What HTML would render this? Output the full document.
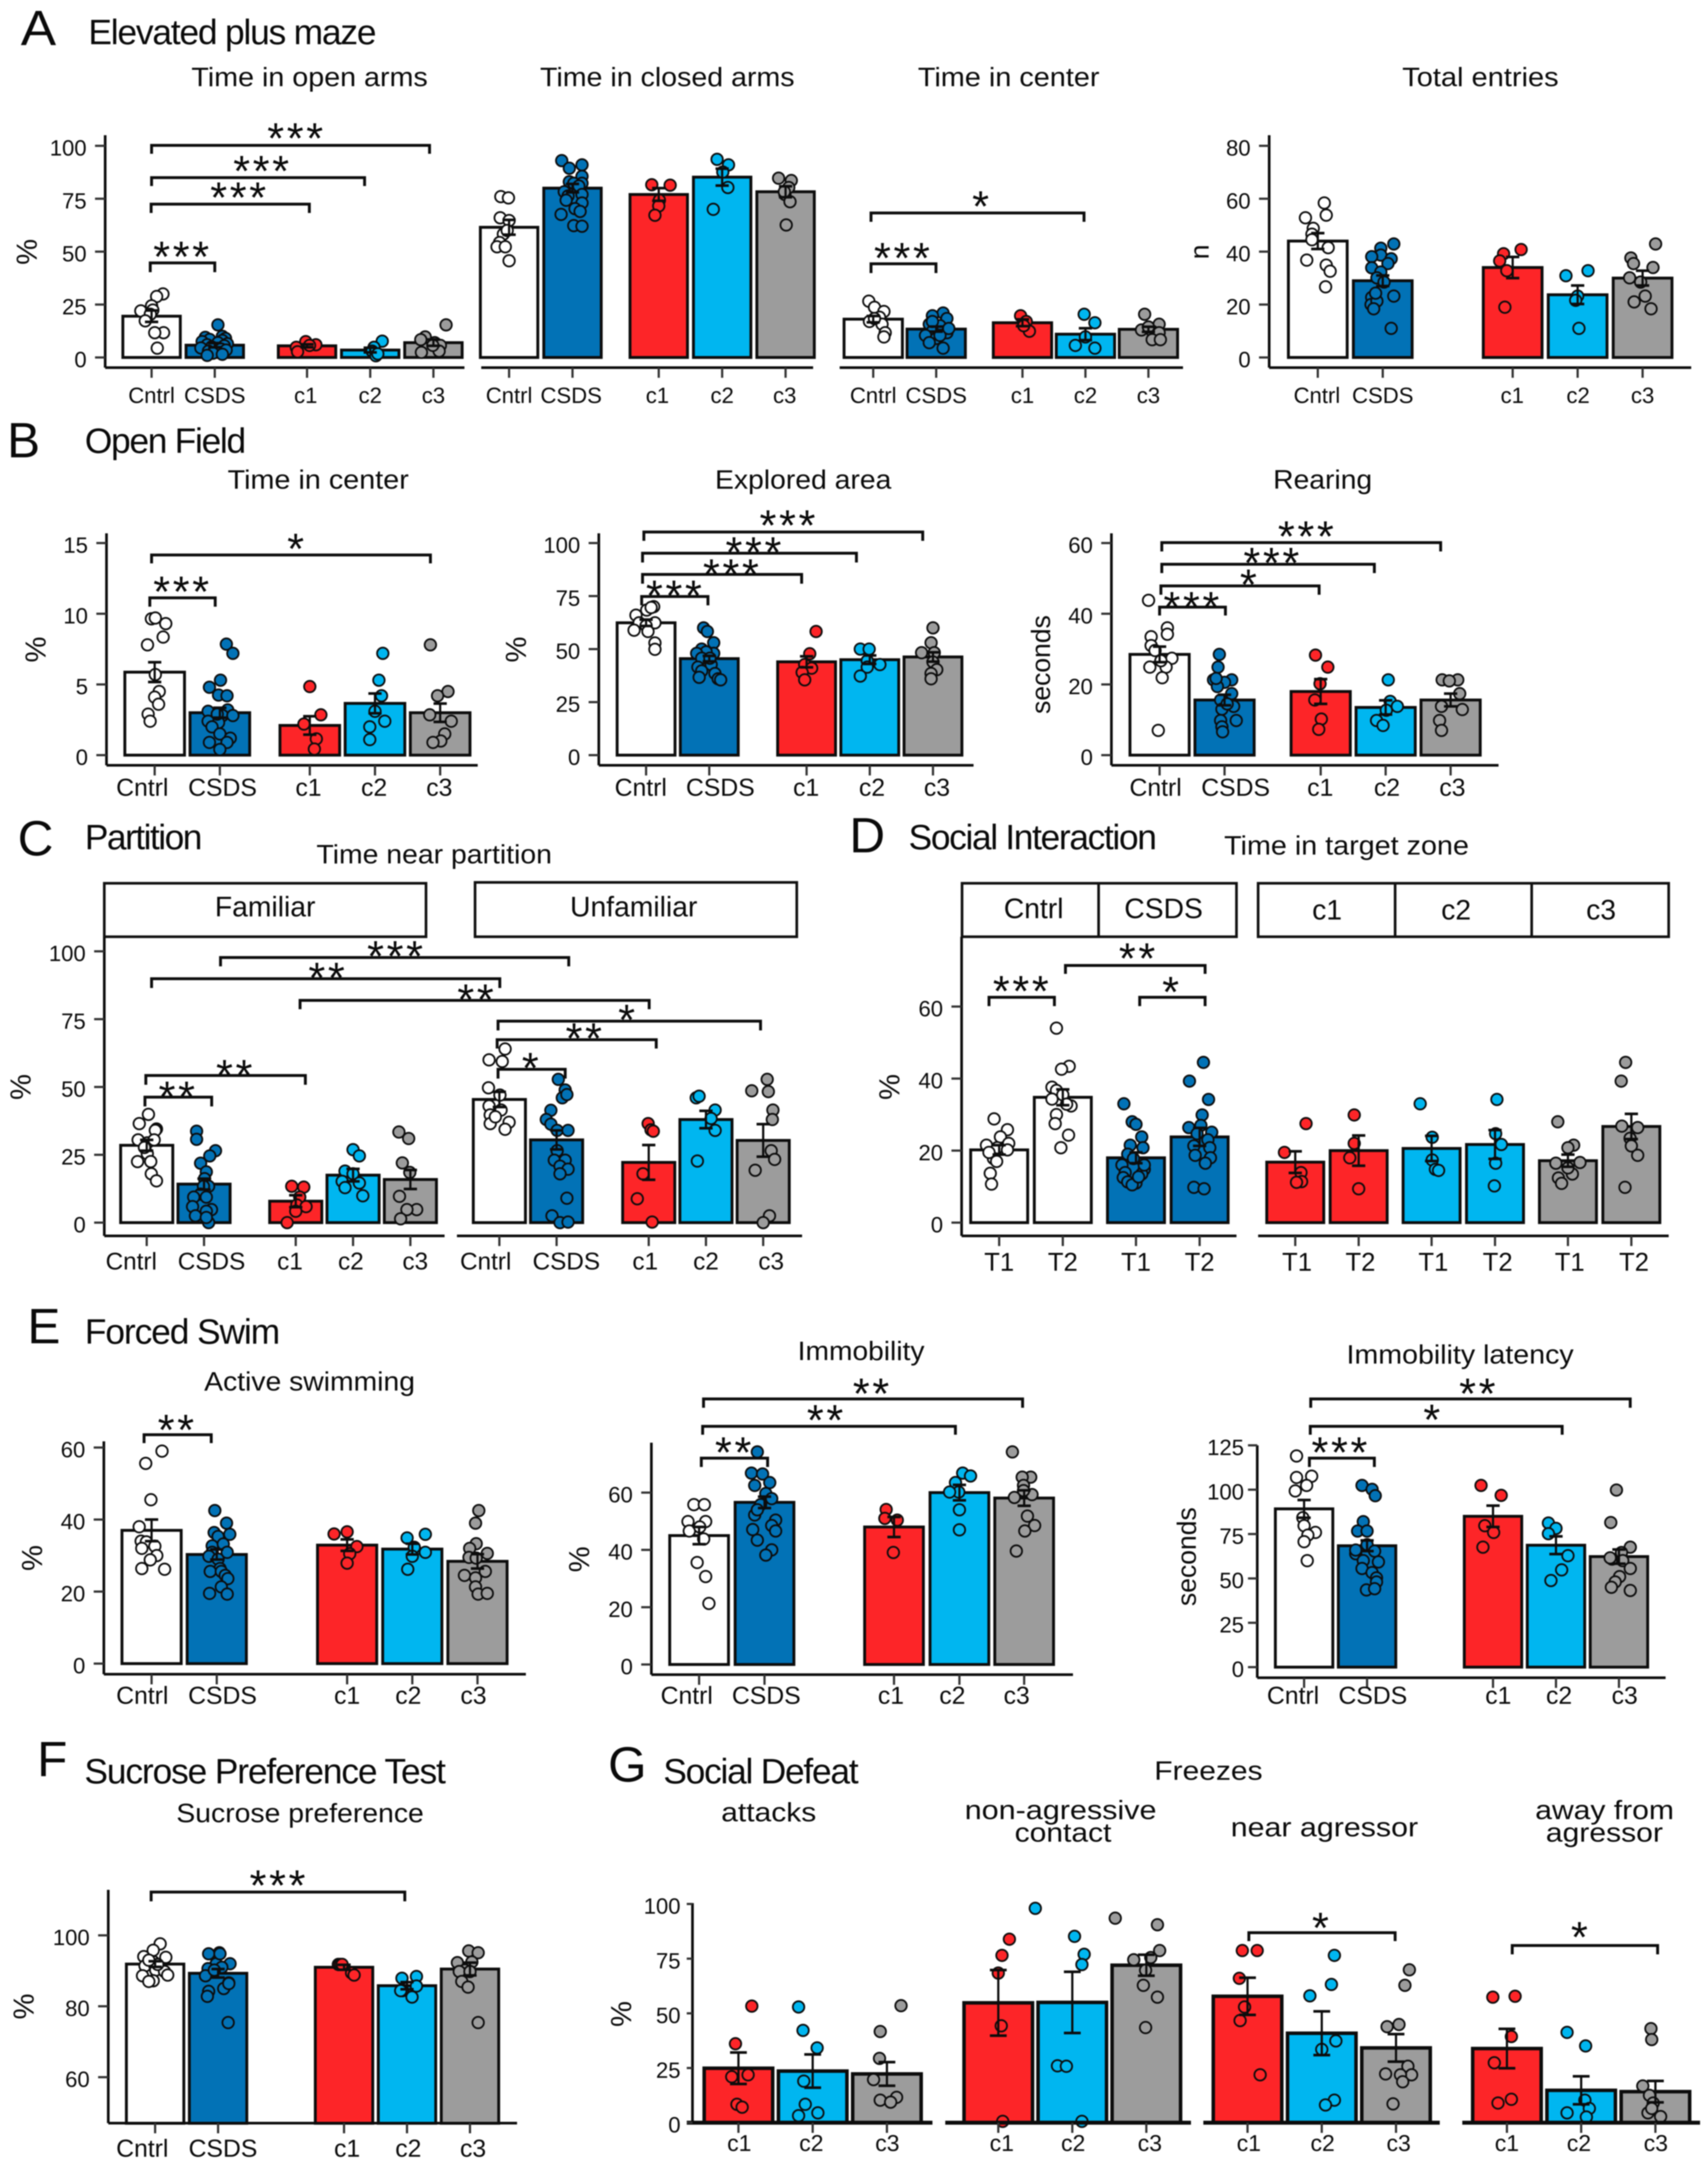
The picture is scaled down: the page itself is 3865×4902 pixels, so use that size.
<!DOCTYPE html>
<html lang="en">
<head>
<meta charset="utf-8">
<title>Behavioural test bar charts</title>
<style>
html,body{margin:0;padding:0;background:#fff;}
svg{display:block;position:absolute;left:0;top:0;filter:blur(1.2px);}
text{font-family:"Liberation Sans",sans-serif;fill:#0a0a0a;}
.head{font-size:80px;}
.letter{font-size:112px;}
.title{font-size:60px;}
.ytitle{font-size:66px;text-anchor:middle;}
.strip{font-size:64px;text-anchor:middle;}
.box{fill:#fff;stroke:#111;stroke-width:6;}
</style>
</head>
<body>
<svg id="figure" xmlns="http://www.w3.org/2000/svg" width="3865" height="4902" viewBox="0 0 3865 4902">
<rect x="0" y="0" width="3865" height="4902" fill="#fff"/>

<text class="letter" x="47" y="102" textLength="80" lengthAdjust="spacingAndGlyphs">A</text>
<text class="head" x="200" y="100" textLength="652" lengthAdjust="spacing">Elevated plus maze</text>
<text class="title" x="433" y="195" textLength="535" lengthAdjust="spacingAndGlyphs">Time in open arms</text>
<text class="title" x="1222" y="195" textLength="576" lengthAdjust="spacingAndGlyphs">Time in closed arms</text>
<text class="title" x="2077" y="195" textLength="411" lengthAdjust="spacingAndGlyphs">Time in center</text>
<text class="title" x="3173" y="195" textLength="354" lengthAdjust="spacingAndGlyphs">Total entries</text>
<text class="ytitle" transform="translate(83,570) rotate(-90)">%</text>
<text class="ytitle" style="font-size:60px" transform="translate(2735,570) rotate(-90)">n</text>

<text class="letter" x="16" y="1035">B</text>
<text class="head" x="192" y="1025" textLength="365" lengthAdjust="spacing">Open Field</text>
<text class="title" x="515" y="1106" textLength="410" lengthAdjust="spacingAndGlyphs">Time in center</text>
<text class="title" x="1618" y="1106" textLength="399" lengthAdjust="spacingAndGlyphs">Explored area</text>
<text class="title" x="2881" y="1106" textLength="224" lengthAdjust="spacingAndGlyphs">Rearing</text>
<text class="ytitle" transform="translate(103,1470) rotate(-90)">%</text>
<text class="ytitle" transform="translate(1190,1470) rotate(-90)">%</text>
<text class="ytitle" style="font-size:60px" transform="translate(2376,1504) rotate(-90)">seconds</text>

<text class="letter" x="40" y="1936">C</text>
<text class="head" x="192" y="1922" textLength="266" lengthAdjust="spacing">Partition</text>
<text class="title" x="716" y="1954" textLength="533" lengthAdjust="spacingAndGlyphs">Time near partition</text>
<rect class="box" x="236" y="1999" width="728" height="121"/>
<rect class="box" x="1075" y="1997" width="728" height="123"/>
<text class="strip" x="600" y="2074">Familiar</text>
<text class="strip" x="1434" y="2074">Unfamiliar</text>
<text class="ytitle" transform="translate(69,2460) rotate(-90)">%</text>

<text class="letter" x="1922" y="1929">D</text>
<text class="head" x="2056" y="1922" textLength="562" lengthAdjust="spacing">Social Interaction</text>
<text class="title" x="2770" y="1934" textLength="554" lengthAdjust="spacingAndGlyphs">Time in target zone</text>
<rect class="box" x="2177" y="1999" width="309" height="121"/>
<rect class="box" x="2486" y="1999" width="312" height="121"/>
<rect class="box" x="2847" y="1999" width="310" height="121"/>
<rect class="box" x="3157" y="1999" width="309" height="121"/>
<rect class="box" x="3466" y="1999" width="310" height="121"/>
<text class="strip" x="2339" y="2078">Cntrl</text>
<text class="strip" x="2633" y="2078">CSDS</text>
<text class="strip" x="3003" y="2081">c1</text>
<text class="strip" x="3295" y="2081">c2</text>
<text class="strip" x="3623" y="2081">c3</text>
<text class="ytitle" transform="translate(2035,2460) rotate(-90)">%</text>

<text class="letter" x="62" y="3040">E</text>
<text class="head" x="192" y="3041" textLength="442" lengthAdjust="spacing">Forced Swim</text>
<text class="title" x="462" y="3147" textLength="477" lengthAdjust="spacingAndGlyphs">Active swimming</text>
<text class="title" x="1805" y="3078" textLength="287" lengthAdjust="spacingAndGlyphs">Immobility</text>
<text class="title" x="3047" y="3086" textLength="514" lengthAdjust="spacingAndGlyphs">Immobility latency</text>
<text class="ytitle" transform="translate(95,3526) rotate(-90)">%</text>
<text class="ytitle" transform="translate(1333,3529) rotate(-90)">%</text>
<text class="ytitle" style="font-size:60px" transform="translate(2706,3523) rotate(-90)">seconds</text>

<text class="letter" x="84" y="4020">F</text>
<text class="head" x="191" y="4036" textLength="818" lengthAdjust="spacing">Sucrose Preference Test</text>
<text class="title" x="399" y="4124" textLength="560" lengthAdjust="spacingAndGlyphs">Sucrose preference</text>
<text class="ytitle" transform="translate(76,4541) rotate(-90)">%</text>

<text class="letter" x="1376" y="4032">G</text>
<text class="head" x="1501" y="4036" textLength="442" lengthAdjust="spacing">Social Defeat</text>
<text class="title" x="2612" y="4028" textLength="245" lengthAdjust="spacingAndGlyphs">Freezes</text>
<text class="title" x="1632" y="4122" textLength="215" lengthAdjust="spacingAndGlyphs">attacks</text>
<text class="title" x="2183" y="4117" textLength="434" lengthAdjust="spacingAndGlyphs">non-agressive</text>
<text class="title" x="2296" y="4168" textLength="219" lengthAdjust="spacingAndGlyphs">contact</text>
<text class="title" x="2785" y="4156" textLength="424" lengthAdjust="spacingAndGlyphs">near agressor</text>
<text class="title" x="3474" y="4117" textLength="314" lengthAdjust="spacingAndGlyphs">away from</text>
<text class="title" x="3498" y="4168" textLength="265" lengthAdjust="spacingAndGlyphs">agressor</text>
<text class="ytitle" transform="translate(1428,4558) rotate(-90)">%</text>
</svg>

<script>
// ---------- categories ----------
const groupNames = ['Cntrl', 'CSDS', 'c1', 'c2', 'c3'];
const cohortNames = ['c1', 'c2', 'c3'];
const pairNamesD1 = ['T1', 'T2', 'T1', 'T2'];
const pairNamesD2 = ['T1', 'T2', 'T1', 'T2', 'T1', 'T2'];

// ---------- A: time in open arms ----------
const a1Ticks = [0, 25, 50, 75, 100];
const a1Means = [19.5, 5.8, 5.5, 3.5, 7];
const a1Sem = [2.7, 1, 0.7, 1.1, 1.5];
const a1Values = [
 [30, 28.8, 24.4, 22, 22.4, 20.4, 17.3, 11.7, 11.7, 4.4],
 [15.4, 10, 9.5, 9, 8.5, 8, 7.5, 7, 6.5, 6, 5.5, 5, 4.5, 4, 3.5, 3, 2, 1.5, 1],
 [7.5, 6, 4.8, 2.7, 5.7],
 [7.7, 4.8, 3, 0.8, 1.7],
 [15.4, 9.7, 8.4, 7, 5.7, 3, 2.4, 5.7]];
const a1Jitter = [
 [.18, .08, 0, -.17, .02, -.02, -.1, .19, .05, .09],
 [.05, .12, -.15, .17, -.08, .12, -.2, .05, .2, -.12, .15, -.05, -.22, .1, .18, -.1, -.03, .12, -.12],
 [-.02, .14, -.17, -.15, .04],
 [.19, .06, .03, .09, .12],
 [.2, -.13, -.2, .02, .11, .09, -.19, -.01]];

// ---------- A: time in closed arms ----------
const a2Ticks = [0, 25, 50, 75, 100];
const a2Means = [61.5, 80, 77, 85.2, 78.3];
const a2Sem = [3.5, 2, 3, 4, 2.6];
const a2Values = [
 [76, 75.4, 66, 64.7, 58.3, 54.3, 52.3, 52.3, 45.7, 60],
 [93, 91, 89.4, 85.6, 83, 82.3, 82.3, 81, 78.3, 77, 76.3, 74.3, 73, 70.3, 69, 67.6, 62.3, 62],
 [81.6, 81.4, 74.3, 71.6, 67.2],
 [93.6, 91, 80.3, 87.6, 70],
 [84.7, 83.6, 80.3, 77, 73.6, 62.6, 78.3]];
const a2Jitter = [
 [-.13, -.01, -.14, 0, -.09, -.15, -.19, -.06, 0, -.03],
 [-.17, .15, -.05, .15, -.05, .02, .15, .1, -.13, .15, -.07, -.1, .15, .04, .12, -.18, .02, .15],
 [-.11, .18, .01, 0, -.06],
 [-.08, .1, .09, .01, -.14],
 [-.11, .09, .05, -.01, .07, .01, -.02]];

// ---------- A: time in center ----------
const a3Ticks = [0, 25, 50, 75, 100];
const a3Means = [18.1, 13.4, 16.4, 11, 13.3];
const a3Sem = [1.5, 1.2, 1.6, 2.8, 1.2];
const a3Values = [
 [26.6, 23.7, 21.7, 19, 17, 15.7, 11.7, 9.7, 18.4],
 [21, 19.7, 18.4, 15.7, 15, 12.4, 11.7, 10.4, 9, 7, 4.4, 10.4, 17, 13.7],
 [19.7, 17, 12.4, 15],
 [20.4, 16.4, 9.7, 5.7, 4.4],
 [20.4, 15.7, 13, 12.4, 11.7, 8.4, 8.4, 14.4]];
const a3Jitter = [
 [-.07, .02, .17, .1, -.06, .14, .19, .17, .02],
 [.11, -.06, .17, -.11, .06, -.06, .17, -.17, 0, -.11, .11, .06, -.06, .2],
 [-.03, .06, .11, .02],
 [-.02, .15, 0, -.16, .15],
 [-.06, .17, -.11, .06, .17, .06, .19, 0]];

// ---------- A: total entries ----------
const a4Ticks = [0, 20, 40, 60, 80];
const a4Means = [44, 29, 34, 23.7, 30];
const a4Sem = [3, 2, 4, 3.5, 2.8];
const a4Values = [
 [58.4, 53.8, 52.8, 48.8, 46.6, 44.5, 41.5, 36.8, 34.9, 32.6, 26.7],
 [42.9, 41.3, 38.7, 38.1, 37.3, 35.5, 33.9, 32.3, 30.1, 22.7, 23.2, 20, 21.3, 18.4, 11, 28.5, 24.3],
 [40.8, 39.2, 36.5, 32.8, 19],
 [32.8, 30.9, 23.2, 21.6, 11],
 [42.9, 37.6, 35.5, 34, 30.1, 28.5, 23.2, 21, 18.4]];
const a4Jitter = [
 [.1, .13, -.19, -.07, -.09, -.09, .16, -.17, .13, .19, .12],
 [.17, -.03, -.03, -.17, .13, .08, -.17, -.03, -.09, -.17, .17, -.18, -.09, -.14, .13, .02, -.11],
 [.13, -.14, -.2, -.09, -.12],
 [.16, -.18, 0, -.03, .02],
 [.2, -.18, -.14, .16, -.2, -.03, .04, -.13, .13]];

// ---------- B: time in center ----------
const b1Ticks = [0, 5, 10, 15];
const b1Means = [5.87, 3, 2.1, 3.66, 3];
const b1Sem = [0.7, 0.35, 0.65, 0.7, 0.65];
const b1Values = [
 [9.64, 9.7, 9.3, 8.35, 7.8, 5.7, 4.5, 4.1, 3.6, 2.9, 2.4],
 [7.85, 7.2, 5.3, 4.8, 4.25, 4.2, 3.1, 3.2, 2.8, 2.4, 2.3, 2, 1.5, 1.2, 0.9, 0.9, 0.4, 2.9, 2.8],
 [4.85, 2.85, 2.2, 1.15, 0.43],
 [7.2, 5.3, 4.2, 3.1, 2.4, 2, 1.1],
 [7.8, 4.5, 4.2, 2.85, 2.4, 1.5, 1, 0.9]];
const b1Jitter = [
 [-.05, .01, .17, .13, -.11, .01, .07, 0, .06, -.1, -.07],
 [.1, .2, .01, -.16, -.02, .11, -.18, .12, .04, -.18, -.02, -.12, 0, .16, .11, -.16, 0, -.04, .2],
 [0, .17, -.09, .1, .07],
 [.12, .06, .1, 0, .15, -.08, -.08],
 [-.15, .12, -.04, -.16, .17, .07, .01, -.11]];

// ---------- B: explored area ----------
const b2Ticks = [0, 25, 50, 75, 100];
const b2Means = [62.4, 45.5, 44, 45, 46.3];
const b2Sem = [1.5, 1.3, 2.6, 2, 2.2];
const b2Values = [
 [70, 68.4, 66, 62.4, 62.4, 58.9, 61, 58.3, 52.9, 49.9, 69.6],
 [60, 58.3, 53, 50, 48, 48.7, 48, 45.7, 42.7, 41.5, 39.7, 38.5, 36.7, 36, 35.5, 45.7],
 [58.3, 47.8, 42.7, 41, 39, 35.5],
 [50, 50, 44.5, 42.7, 41.5, 37.3],
 [60, 53, 48.3, 48.3, 43.9, 40.3, 38.5, 36]];
const b2Jitter = [
 [.12, .01, -.16, -.11, .14, -.19, 0, .03, .14, .14, .08],
 [-.09, -.03, .07, -.12, .07, -.05, -.2, -.12, .03, -.18, -.12, .09, -.16, .14, .18, .01],
 [.15, .05, -.03, .08, -.07, -.03],
 [-.15, -.01, -.04, .16, -.04, -.15],
 [0, -.03, -.18, .02, 0, .06, -.03, -.03]];

// ---------- B: rearing ----------
const b3Ticks = [0, 20, 40, 60];
const b3Means = [28.5, 15.6, 18, 13.5, 15.6];
const b3Sem = [2.2, 1.5, 3.5, 2, 1.8];
const b3Values = [
 [43.8, 36, 34.2, 33.5, 31, 29.6, 27.4, 24.9, 24.9, 26.7, 21.9, 7],
 [28.5, 24.9, 21.3, 21.3, 20.6, 19.4, 17.4, 15.6, 13.8, 13, 9.8, 9.8, 8, 6.6, 14.5, 21.7],
 [28.3, 24.9, 20.2, 15.6, 10.2, 7.3],
 [21.3, 15.2, 13.8, 12.7, 9.8, 8.4],
 [21.3, 21.3, 21, 17.4, 13.8, 12.9, 9.8, 7]];
const b3Jitter = [
 [-.17, .12, .12, -.13, -.13, -.07, .19, -.15, .1, .02, .04, -.02],
 [-.08, -.1, -.17, .11, 0, -.11, .11, -.06, .14, -.04, -.06, .18, -.04, -.03, .04, -.13],
 [-.08, .11, -.01, -.09, .01, -.03],
 [.04, .07, .18, .01, -.14, -.04],
 [-.13, .11, -.02, .14, -.14, .18, -.17, -.14]];

// ---------- C: familiar ----------
const c1Ticks = [0, 25, 50, 75, 100];
const c1Means = [28.5, 14.2, 7.9, 17.5, 15.9];
const c1Sem = [2, 2, 2.2, 2.3, 3.5];
const c1Values = [
 [39.9, 36.5, 34.5, 34, 30.5, 29.4, 30.5, 25.4, 22.5, 22.5, 18, 15.4, 27.7],
 [33.7, 30.7, 26.5, 24.6, 21.9, 18.7, 16.2, 13.4, 13.4, 10.5, 9.4, 9.4, 5.9, 4.8, 4.2, 2.5, 0, 1.9],
 [13.4, 13.1, 9.4, 6.5, 5.9, 4.2, 0],
 [26.9, 24.6, 19, 18, 15.2, 12.9, 14.6, 9.9],
 [33.4, 31, 22, 18.5, 9.7, 4.8, 4.8, 1.4]];
const c1Jitter = [
 [.03, -.13, .17, .15, -.15, .01, .13, .01, -.16, .07, .08, .17, -.04],
 [-.13, -.13, .2, .1, -.06, .04, .01, .08, -.01, -.06, -.18, .04, -.2, .13, .04, -.15, .08, .04],
 [-.07, .14, .07, .02, .18, 0, -.15],
 [0, .11, -.14, 0, -.19, -.14, .11, .17],
 [-.2, -.03, -.14, -.01, -.19, .11, -.06, -.17]];

// ---------- C: unfamiliar ----------
const c2Means = [45.4, 30.5, 22.2, 38, 30.3];
const c2Sem = [2.8, 3.5, 6.4, 3.2, 6];
const c2Values = [
 [64, 60, 59.4, 49.7, 47, 43, 41.5, 39.7, 37, 36.5, 34.4, 39],
 [52.8, 48.9, 46, 41.4, 38, 36.3, 34, 34, 26.5, 23, 23, 20.8, 19.7, 18, 9, 2.5, 0, 0.2, 47.2],
 [36.5, 34.2, 33.7, 18, 8.8, 0.2],
 [46, 41.5, 38.4, 34, 22.7, 46.6],
 [52.8, 48.6, 48.3, 41.5, 38, 26.5, 23.3, 19.3, 2.5, 0]];
const c2Jitter = [
 [.1, -.18, .05, -.19, .01, -.18, .03, -.16, .17, -.16, .1, -.07],
 [.03, .15, .1, -.1, -.18, -.1, .01, .2, .01, -.04, .15, .06, .2, .06, .18, -.08, .06, .2, .18],
 [-.01, .04, .08, -.1, -.2, .06],
 [-.17, .16, .09, .16, -.15, -.12],
 [.07, -.2, .09, .17, .16, .14, .2, -.14, .11, 0]];

// ---------- D: Cntrl and CSDS ----------
const d1Ticks = [0, 20, 40, 60];
const d1Means = [20.2, 34.8, 18, 23.8];
const d1Sem = [1.3, 2.2, 1.5, 2.5];
const d1Values = [
 [28.8, 25.8, 23.8, 22, 21.5, 20.8, 20.2, 17.8, 17, 13.7, 10.7, 19.5],
 [54, 43.4, 42.6, 37.6, 36.7, 34.3, 35.5, 32.4, 32.9, 30, 27.5, 24.3, 20.8],
 [33, 28, 27.3, 23.8, 21.5, 20.8, 19, 17.8, 16, 14.8, 13.9, 13.5, 12.5, 11.3, 11, 10.5, 12.7, 16],
 [44.5, 39.3, 34.2, 29.9, 26.4, 27, 25.1, 24.7, 23, 21.3, 20.8, 18.7, 18, 16.5, 9.8, 9.4]];
const d1Jitter = [
 [-.08, .13, .02, .15, -.2, -.03, .13, -.09, -.04, -.14, -.12, -.16],
 [-.1, .1, -.02, -.17, -.1, -.17, 0, .13, .06, -.1, -.12, .09, -.03],
 [-.19, -.06, 0, .09, -.09, .11, -.13, -.04, -.22, .13, -.17, .09, -.2, -.13, 0, -.06, .04, .13],
 [.06, -.16, .14, .04, -.17, .02, .19, -.04, .13, -.09, .16, -.07, .17, .09, -.09, .07]];

// ---------- D: cohorts ----------
const d2Means = [16.8, 20, 20.6, 21.7, 17.2, 26.7];
const d2Sem = [3, 4.2, 3.5, 4, 1.7, 3.5];
const d2Values = [
 [27.5, 19.5, 13.9, 11.4, 11.2],
 [29.9, 22, 18, 9.4],
 [33, 23.7, 17.4, 14.8, 14.5],
 [34.2, 24.7, 21.7, 16.5, 10.2],
 [28, 21.5, 20.8, 16.7, 16.5, 13.5, 12.4, 10.9, 15.2],
 [44.5, 39.3, 26.8, 26.4, 23.4, 21.3, 18.7, 9.8]];
const d2Jitter = [
 [.17, -.17, .09, .1, .02],
 [-.07, -.07, -.14, 0],
 [-.18, .01, .01, .06, .11],
 [.03, .01, .1, .01, -.01],
 [-.16, .09, 0, .19, -.19, .07, -.15, -.1, 0],
 [-.09, -.16, -.15, .1, -.02, 0, .1, -.1]];

// ---------- E: active swimming ----------
const e1Ticks = [0, 20, 40, 60];
const e1Means = [37, 30.3, 32.9, 31.8, 28.4];
const e1Sem = [3, 1.4, 1.6, 1.5, 2];
const e1Values = [
 [59, 55.6, 45.5, 38, 34, 33.8, 32.6, 32, 30, 28.8, 26.4, 26.2],
 [42.5, 39, 36.4, 35.9, 35.3, 32.7, 33.2, 30.9, 30.9, 29.8, 29, 26.4, 25.6, 25.6, 24.5, 23.6, 21.3, 19.5, 19.3],
 [36, 36.6, 32.5, 30.5, 27.9],
 [35.9, 34.9, 32.3, 30.9, 29.8, 26.2],
 [42.5, 39, 33.3, 32, 30.6, 29.5, 29.3, 25.6, 24.5, 23.8, 21.3, 19.3, 19.5]];
const e1Jitter = [
 [.16, -.09, -.01, -.19, -.16, -.08, .05, -.15, .08, -.02, -.15, .2],
 [-.03, .15, -.04, .2, .02, -.07, .1, .16, -.07, -.12, .02, .05, -.1, .07, .13, .17, .07, -.11, .16],
 [-.2, 0, .15, .04, 0],
 [.2, -.08, .03, .2, 0, -.07],
 [.02, -.03, -.02, -.12, .15, -.13, -.02, .12, -.2, -.03, -.03, .01, .15]];

// ---------- E: immobility ----------
const e2Ticks = [0, 20, 40, 60];
const e2Means = [45, 56.6, 48, 60, 58.1];
const e2Sem = [3, 2, 3.5, 2.7, 2.7];
const e2Values = [
 [55.8, 55.8, 49.9, 49.9, 46.6, 43.8, 35.6, 30.7, 21.3, 48],
 [74.2, 66.8, 66.5, 63.5, 62.5, 59.7, 57.9, 52.2, 50.4, 47.1, 48.5, 46.6, 43.4, 40, 38.2, 55.8, 54],
 [54.1, 51, 50.4, 39.1],
 [66.8, 65.8, 63.5, 60.2, 60.2, 54, 47],
 [74.2, 65.4, 65.4, 62.5, 58.3, 59.3, 51.8, 48.5, 46.6, 39.6, 60.7]];
const e2Jitter = [
 [-.08, .08, -.17, .1, -.15, .07, -.03, .1, .15, .01],
 [-.11, -.2, -.03, .08, -.15, .02, .11, -.15, .17, -.18, .11, .17, -.11, .11, .02, -.06, -.11],
 [-.12, -.14, .05, -.01],
 [.05, .17, -.06, -.01, -.15, 0, 0],
 [-.18, .1, -.03, -.01, -.15, .12, .05, .16, .01, -.12, -.01]];

// ---------- E: immobility latency ----------
const e3Ticks = [0, 25, 50, 75, 100, 125];
const e3Means = [89.2, 68.4, 85, 68.7, 62.3];
const e3Sem = [5, 3, 6, 5, 4];
const e3Values = [
 [119, 107.6, 106.9, 102.4, 99.3, 84.2, 79.7, 75.9, 74.4, 70.7, 60],
 [102.4, 100.2, 96.6, 82, 76.7, 76.7, 69, 63.9, 65.4, 60, 59.3, 55.6, 53.3, 50.3, 48, 43.5, 44.2, 66],
 [102.4, 96.8, 79.7, 75.9, 67.6],
 [81.2, 78.2, 75.2, 62.8, 54.8, 48.8],
 [99.8, 81.5, 67.6, 64.6, 60.9, 60, 55.6, 51, 48, 45, 43.2, 61.6]];
const e3Jitter = [
 [-.12, .12, -.12, .04, -.14, -.02, 0, .18, .06, 0, .05],
 [-.08, .08, .13, -.06, -.15, 0, 0, -.18, .12, -.06, .18, -.08, .08, .15, .15, -.01, .12, -.18],
 [-.19, .13, -.13, .01, -.16],
 [-.12, 0, -.12, .19, .09, -.08],
 [-.04, -.13, .18, .04, -.11, .06, .18, .01, -.06, -.12, .18, -.14]];

// ---------- F: sucrose preference ----------
const f1Ticks = [60, 80, 100];
const f1Means = [91.9, 89.3, 91, 85.8, 90.5];
const f1Sem = [0.8, 1.2, 0.7, 1, 1.8];
const f1Values = [
 [97.6, 95.8, 94, 93.8, 92.6, 91.4, 90.2, 89.8, 88.6, 88.8, 87.2, 87, 91.8, 93],
 [95.1, 94.8, 92, 92, 90.6, 91, 88.6, 86.6, 85, 84.2, 82.8, 86.4, 75.4, 90.2, 94.8],
 [91.8, 91.8, 89.4, 88.8, 91.8],
 [88.4, 87.9, 85.7, 84.4, 82.6, 84.4],
 [95.6, 95.1, 92.5, 92.3, 90.2, 89.8, 89.8, 87, 85.4, 75.4]];
const f1Jitter = [
 [.08, -.03, -.18, .17, -.03, -.16, .01, .15, -.2, .2, -.03, -.1, .04, -.1],
 [.02, -.15, -.03, .19, -.16, .06, -.2, .17, .09, -.15, -.17, .17, .16, -.06, .03],
 [-.09, -.06, .12, .16, -.03],
 [.15, -.08, .15, -.07, .08, -.1],
 [-.02, .13, .03, -.2, -.08, -.17, 0, -.13, -.03, .13]];

// ---------- G: attacks ----------
const g1Ticks = [0, 25, 50, 75, 100];
const g1Means = [24.9, 23.6, 22.3];
const g1Sem = [7.2, 7.6, 5.4];
const g1Values = [
 [53.3, 36.1, 21.9, 21, 8.4, 7.1],
 [52.9, 42.2, 34.2, 19, 8.4, 4.5, 3.2],
 [53.5, 41.7, 29.4, 19.7, 11.6, 10.3, 9.4]];
const g1Jitter = [
 [.18, -.04, .13, -.09, -.02, .05],
 [-.19, -.13, .06, -.12, -.1, .07, -.19],
 [.19, -.09, -.1, -.18, .13, -.09, .05]];

// ---------- G: non-agressive contact ----------
const g2Means = [54.8, 55, 72];
const g2Sem = [15, 14, 4.8];
const g2Values = [
 [83.9, 76.5, 68.4, 44.3, 0.6],
 [98, 85.2, 77, 72.3, 26, 25.8, 0.6],
 [93.5, 90.5, 78.7, 74.5, 69.7, 62.8, 57.4, 43.5, 75.5]];
const g2Jitter = [
 [.15, .05, 0, .04, .06],
 [-.5, .03, .16, .13, -.2, -.08, .13],
 [-.42, .15, .18, -.17, -.01, -.04, .15, -.01, .06]];

// ---------- G: near agressor ----------
const g3Means = [57.8, 40.9, 34.2];
const g3Sem = [8.5, 10, 6.3];
const g3Values = [
 [78.7, 78.7, 66, 52.9, 46.7, 21.9],
 [76.5, 63.2, 58, 37.4, 33.5, 10.3, 8.1],
 [69.9, 62.8, 44.9, 43.9, 25.8, 22.3, 21.9, 21.9, 18.7, 8.6]];
const g3Jitter = [
 [-.07, .13, -.11, -.04, -.1, .17],
 [.17, .13, -.16, .19, 0, .17, .05],
 [.18, .12, .04, -.12, .16, -.14, .21, .06, .09, -.04]];

// ---------- G: away from agressor ----------
const g4Means = [33.9, 14.8, 14.2];
const g4Sem = [9, 6.4, 4.9];
const g4Values = [
 [57.4, 57.8, 39.4, 27.4, 10.7, 9],
 [41.3, 35.1, 10.3, 6.5, 4.5, 2.6],
 [43, 38, 16.8, 12.5, 9, 4.5, 2.8, 6.5]];
const g4Jitter = [
 [-.19, .11, .06, -.17, .06, -.12],
 [-.19, .06, .05, .11, -.19, .07],
 [-.06, -.05, -.17, -.08, -.03, -.1, .07, -.05]];

// ---------- styling and layout (not data) ----------
const WHITE = '#ffffff', BLUE = '#0272b6', RED = '#fd2528', CYAN = '#00b6f0', GREY = '#9c9c9c';
const fiveFills = [WHITE, BLUE, RED, CYAN, GREY];
const threeFills = [RED, CYAN, GREY];
const slots5a = [0, 1, 2.46, 3.46, 4.46];
const slots5b = [0, 1, 3, 4, 5];

const panels = [
 {name: 'open-arms', cats: groupNames, ticks: a1Ticks, means: a1Means, sem: a1Sem, values: a1Values, jitter: a1Jitter, fills: fiveFills, labelSize: 50,
  axisX: 238, xStart: 238, xEnd: 1051, top: 306, bottom: 832, y0: 809, v0: 0, y1: 330, v1: 100, x0: 343, step: 143, slots: slots5a, barW: 130, labelDx: [0, 0, -3, 0, 0], labelY: 912,
  brackets: [[340, 486, 595, 616, '***', 410, 565], [342, 700, 462, 482, '***', 539, 431], [343, 825, 402, 421, '***', 591, 371], [343, 972, 329, 348, '***', 668, 297]]},
 {name: 'closed-arms', cats: groupNames, means: a2Means, sem: a2Sem, values: a2Values, jitter: a2Jitter, fills: fiveFills, labelSize: 50,
  xStart: 1089, xEnd: 1840, top: 306, bottom: 832, y0: 809, v0: 0, y1: 330, v1: 100, x0: 1152, step: 143.5, slots: [0, 1, 2.36, 3.36, 4.36], barW: 130, labelDx: [0, -3, -3, 0, -2], labelY: 912, brackets: []},
 {name: 'center', cats: groupNames, means: a3Means, sem: a3Sem, values: a3Values, jitter: a3Jitter, fills: fiveFills, labelSize: 50,
  xStart: 1900, xEnd: 2677, top: 306, bottom: 832, y0: 809, v0: 0, y1: 330, v1: 100, x0: 1976, step: 142.5, slots: [0, 1, 2.37, 3.37, 4.37], barW: 132, labelDx: [0, 0, 0, 0, 0], labelY: 912,
  brackets: [[1971, 2118, 597, 618, '***', 2041, 568], [1971, 2453, 482, 502, '*', 2219, 451]]},
 {name: 'total-entries', cats: groupNames, ticks: a4Ticks, means: a4Means, sem: a4Sem, values: a4Values, jitter: a4Jitter, fills: fiveFills, labelSize: 50,
  axisX: 2872, xStart: 2872, xEnd: 3827, top: 306, bottom: 832, y0: 809, v0: 0, y1: 330, v1: 80, x0: 2982, step: 147, slots: slots5b, barW: 133, labelDx: [-2, 0, -1, 1, 0], labelY: 912, brackets: []},
 {name: 'of-center', cats: groupNames, ticks: b1Ticks, means: b1Means, sem: b1Sem, values: b1Values, jitter: b1Jitter, fills: fiveFills, labelSize: 56,
  axisX: 241, xStart: 241, xEnd: 1081, top: 1207, bottom: 1732, y0: 1709, v0: 0, y1: 1229, v1: 15, x0: 350, step: 147.5, slots: [0, 1, 2.38, 3.38, 4.38], barW: 135, labelDx: [-28, 6, -3, -2, -2], labelY: 1801,
  brackets: [[339, 487, 1353, 1373, '***', 410, 1323], [343, 974, 1256, 1275, '*', 669, 1226]]},
 {name: 'explored-area', cats: groupNames, ticks: b2Ticks, means: b2Means, sem: b2Sem, values: b2Values, jitter: b2Jitter, fills: fiveFills, labelSize: 56,
  axisX: 1355, xStart: 1355, xEnd: 2203, top: 1207, bottom: 1732, y0: 1709, v0: 0, y1: 1229, v1: 100, x0: 1462, step: 143, slots: [0, 1, 2.54, 3.54, 4.54], barW: 131, labelDx: [-12, 25, -1, 5, 9], labelY: 1801,
  brackets: [[1452, 1602, 1350, 1370, '***', 1525, 1332], [1454, 1814, 1300, 1321, '***', 1654, 1284], [1454, 1938, 1252, 1273, '***', 1705, 1234], [1457, 2088, 1204, 1224, '***', 1782, 1173]]},
 {name: 'rearing', cats: groupNames, ticks: b3Ticks, means: b3Means, sem: b3Sem, values: b3Values, jitter: b3Jitter, fills: fiveFills, labelSize: 56,
  axisX: 2515, xStart: 2515, xEnd: 3391, top: 1207, bottom: 1732, y0: 1709, v0: 0, y1: 1229, v1: 60, x0: 2624, step: 147, slots: [0, 1, 2.48, 3.48, 4.48], barW: 134, labelDx: [-9, 25, -1, 3, 4], labelY: 1801,
  brackets: [[2624, 2773, 1374, 1393, '***', 2696, 1358], [2627, 2985, 1326, 1346, '*', 2825, 1307], [2629, 3110, 1277, 1297, '***', 2877, 1258], [2629, 3260, 1228, 1248, '***', 2955, 1198]]},
 {name: 'familiar', cats: groupNames, ticks: c1Ticks, means: c1Means, sem: c1Sem, values: c1Values, jitter: c1Jitter, fills: fiveFills, labelSize: 55,
  axisX: 236, xStart: 236, xEnd: 1006, top: 2120, bottom: 2797, y0: 2767, v0: 0, y1: 2153, v1: 100, x0: 332, step: 129.7, slots: [0, 1, 2.6, 3.6, 4.6], barW: 118, labelDx: [-35, 17, -13, -5, 11], labelY: 2873,
  brackets: [[328, 479, 2483, 2504, '**', 400, 2466], [330, 691, 2434, 2455, '**', 530, 2417], [1127, 1279, 2420, 2441, '*', 1200, 2401], [1125, 1485, 2353, 2373, '**', 1321, 2334], [1127, 1721, 2311, 2332, '*', 1418, 2292], [679, 1469, 2264, 2284, '**', 1076, 2246], [343, 1131, 2215, 2236, '**', 739, 2197], [499, 1287, 2167, 2187, '***', 894, 2148]]},
 {name: 'unfamiliar', cats: groupNames, means: c2Means, sem: c2Sem, values: c2Values, jitter: c2Jitter, fills: fiveFills, labelSize: 55,
  xStart: 1034, xEnd: 1815, top: 2120, bottom: 2797, y0: 2767, v0: 0, y1: 2153, v1: 100, x0: 1130, step: 129.5, slots: [0, 1, 2.61, 3.61, 4.61], barW: 118, labelDx: [-31, 22, -8, 0, 18], labelY: 2873, brackets: []},
 {name: 'social-cntrl-csds', cats: pairNamesD1, ticks: d1Ticks, means: d1Means, sem: d1Sem, values: d1Values, jitter: d1Jitter, fills: [WHITE, WHITE, BLUE, BLUE], labelSize: 58,
  axisX: 2176, xStart: 2176, xEnd: 2798, top: 2120, bottom: 2797, y0: 2767, v0: 0, y1: 2278, v1: 60, x0: 2261, step: 144, slots: [0, 1, 2.15, 3.15], barW: 129, labelDx: [0, 0, 0, 0], labelY: 2876,
  brackets: [[2238, 2386, 2257, 2277, '***', 2310, 2227], [2579, 2727, 2257, 2277, '*', 2649, 2229], [2411, 2727, 2185, 2204, '**', 2573, 2153]]},
 {name: 'social-cohorts', cats: pairNamesD2, means: d2Means, sem: d2Sem, values: d2Values, jitter: d2Jitter, fills: [RED, RED, CYAN, CYAN, GREY, GREY], labelSize: 58,
  xStart: 2847, xEnd: 3776, top: 2120, bottom: 2797, y0: 2767, v0: 0, y1: 2278, v1: 60, x0: 2931, step: 143.5, slots: [0, 1, 2.15, 3.15, 4.3, 5.3], barW: 129, labelDx: [4, 4, 4, 6, 4, 6], labelY: 2876, brackets: []},
 {name: 'active-swimming', cats: groupNames, ticks: e1Ticks, means: e1Means, sem: e1Sem, values: e1Values, jitter: e1Jitter, fills: fiveFills, labelSize: 56,
  axisX: 235, xStart: 235, xEnd: 1190, top: 3262, bottom: 3789, y0: 3765, v0: 0, y1: 3276, v1: 60, x0: 343, step: 147.5, slots: slots5b, barW: 134, labelDx: [-21, 13, 0, -9, -9], labelY: 3856,
  brackets: [[326, 478, 3247, 3266, '**', 398, 3220]]},
 {name: 'immobility', cats: groupNames, ticks: e2Ticks, means: e2Means, sem: e2Sem, values: e2Values, jitter: e2Jitter, fills: fiveFills, labelSize: 56,
  axisX: 1474, xStart: 1474, xEnd: 2428, top: 3265, bottom: 3790, y0: 3767, v0: 0, y1: 3378, v1: 60, x0: 1582, step: 148, slots: [0, 1, 2.98, 3.98, 4.97], barW: 133, labelDx: [-28, 4, -7, -16, -17], labelY: 3856,
  brackets: [[1587, 1737, 3300, 3320, '**', 1659, 3271], [1590, 2162, 3228, 3247, '**', 1867, 3198], [1592, 2314, 3166, 3186, '**', 1971, 3138]]},
 {name: 'immobility-latency', cats: groupNames, ticks: e3Ticks, means: e3Means, sem: e3Sem, values: e3Values, jitter: e3Jitter, fills: fiveFills, labelSize: 56,
  axisX: 2845, xStart: 2845, xEnd: 3769, top: 3271, bottom: 3797, y0: 3773, v0: 0, y1: 3271, v1: 125, x0: 2951, step: 142.5, slots: slots5b, barW: 130, labelDx: [-25, 13, 12, 7, 13], labelY: 3856, labelGap: 30, tickLen: 21,
  brackets: [[2963, 3110, 3300, 3320, '***', 3031, 3271], [2965, 3535, 3228, 3247, '*', 3240, 3197], [2966, 3689, 3166, 3186, '**', 3343, 3138]]},
 {name: 'sucrose-preference', cats: groupNames, ticks: f1Ticks, means: f1Means, sem: f1Sem, values: f1Values, jitter: f1Jitter, fills: fiveFills, labelSize: 56,
  axisX: 245, xStart: 245, xEnd: 1170, top: 4277, bottom: 4805, y0: 4701, v0: 60, y1: 4380, v1: 100, base: 47, x0: 351, step: 142.5, slots: slots5b, barW: 130, labelDx: [-29, 11, 7, 3, 7], labelY: 4881,
  brackets: [[342, 916, 4282, 4303, '***', 628, 4251]]},
 {name: 'attacks', cats: cohortNames, ticks: g1Ticks, means: g1Means, sem: g1Sem, values: g1Values, jitter: g1Jitter, fills: threeFills, heavy: true, labelSize: 52,
  axisX: 1567, xStart: 1554, xEnd: 2110, top: 4307, bottom: 4804, y0: 4804, v0: 0, y1: 4309, v1: 100, x0: 1671, step: 168, slots: [0, 1, 2], barW: 155, labelDx: [2, -3, 1], labelY: 4868, labelGap: 27, tickLen: 13, brackets: []},
 {name: 'non-agressive-contact', cats: cohortNames, means: g2Means, sem: g2Sem, values: g2Values, jitter: g2Jitter, fills: threeFills, heavy: true, labelSize: 52,
  xStart: 2139, xEnd: 2695, top: 4307, bottom: 4804, y0: 4804, v0: 0, y1: 4309, v1: 100, x0: 2259, step: 167.5, slots: [0, 1, 2], barW: 155, labelDx: [8, 2, 8], labelY: 4868, brackets: []},
 {name: 'near-agressor', cats: cohortNames, means: g3Means, sem: g3Sem, values: g3Values, jitter: g3Jitter, fills: threeFills, heavy: true, labelSize: 52,
  xStart: 2723, xEnd: 3258, top: 4307, bottom: 4804, y0: 4804, v0: 0, y1: 4309, v1: 100, x0: 2823, step: 168, slots: [0, 1, 2], barW: 155, labelDx: [3, 2, 6], labelY: 4868,
  brackets: [[2826, 3157, 4374, 4393, '*', 2988, 4347]]},
 {name: 'away-from-agressor', cats: cohortNames, means: g4Means, sem: g4Sem, values: g4Values, jitter: g4Jitter, fills: threeFills, heavy: true, labelSize: 52,
  xStart: 3309, xEnd: 3847, top: 4307, bottom: 4804, y0: 4804, v0: 0, y1: 4309, v1: 100, x0: 3410, step: 168, slots: [0, 1, 2], barW: 155, labelDx: [0, -5, 1], labelY: 4868,
  brackets: [[3422, 3751, 4403, 4423, '*', 3574, 4368]]}
];

// ---------- drawing ----------
const SVGNS = 'http://www.w3.org/2000/svg';
const figure = document.getElementById('figure');

function make(tag, parent, attrs) {
  const el = document.createElementNS(SVGNS, tag);
  for (const k in attrs) el.setAttribute(k, attrs[k]);
  parent.appendChild(el);
  return el;
}

function line(parent, x1, y1, x2, y2, stroke, width, name) {
  const el = make('line', parent, {x1: x1, y1: y1, x2: x2, y2: y2, stroke: stroke, 'stroke-width': width});
  
  
  return el;
}

function label(parent, str, x, y, size, anchor, name) {
  const el = make('text', parent, {x: x, y: y, 'font-size': size, 'text-anchor': anchor});
  el.textContent = str;
  
  
  return el;
}

function drawPanel(p) {
  const g = make('g', figure, {});
  
  

  const yScale = v => p.y0 - (v - p.v0) * (p.y0 - p.y1) / (p.v1 - p.v0);
  const xScale = i => p.x0 + p.step * p.slots[i];
  const baseY = yScale(p.base === undefined ? 0 : p.base);
  const barStroke = p.heavy ? 8 : 6.5;
  const capHalf = p.heavy ? 19 : 15;

  // bars
  p.means.forEach((m, i) => {
    const top = yScale(m);
    const bar = make('rect', g, {x: xScale(i) - p.barW / 2, y: top, width: p.barW, height: baseY - top, fill: p.fills[i], stroke: '#0c0c0c', 'stroke-width': barStroke});
    
    
  });

  // points
  p.values.forEach((series, i) => {
    series.forEach((v, j) => {
      const offset = (p.jitter[i][j] || 0) * p.step;
      const dot = make('circle', g, {cx: xScale(i) + offset, cy: yScale(v), r: 13, fill: p.fills[i], stroke: '#0c0c0c', 'stroke-width': 4});
      
      
    });
  });

  // error bars
  p.means.forEach((m, i) => {
    const x = xScale(i), hi = yScale(m + p.sem[i]), lo = yScale(m - p.sem[i]);
    line(g, x, hi, x, lo, '#0c0c0c', 5, 'error-bar-' + p.name);
    line(g, x - capHalf, hi, x + capHalf, hi, '#0c0c0c', 6, 'error-cap-upper-' + p.name);
    line(g, x - capHalf, lo, x + capHalf, lo, '#0c0c0c', 6, 'error-cap-lower-' + p.name);
  });

  // x axis
  line(g, p.xStart, p.bottom, p.xEnd, p.bottom, '#0c0c0c', p.heavy ? 9 : 6, 'x-axis-' + p.name);
  p.cats.forEach((c, i) => {
    line(g, xScale(i), p.bottom, xScale(i), p.bottom + 23, '#333', 5, 'x-tick-' + p.name);
    label(g, c, xScale(i) + p.labelDx[i], p.labelY, p.labelSize, 'middle', 'x-tick-label-' + p.name);
  });

  // y axis
  if (p.ticks) {
    const tickLen = p.tickLen || 23, gap = p.labelGap || 42;
    line(g, p.axisX, p.top, p.axisX, p.bottom, '#0c0c0c', 6, 'y-axis-' + p.name);
    p.ticks.forEach(t => {
      const y = yScale(t);
      line(g, p.axisX - tickLen, y, p.axisX, y, '#333', 5, 'y-tick-' + p.name);
      label(g, String(t), p.axisX - gap, y + 22, 50, 'end', 'y-tick-label-' + p.name);
    });
  }

  // significance brackets
  p.brackets.forEach(b => {
    const br = make('path', g, {d: 'M' + b[0] + ' ' + b[3] + 'V' + b[2] + 'H' + b[1] + 'V' + b[3], fill: 'none', stroke: '#0c0c0c', 'stroke-width': 6.5});
    
    
    const star = label(g, b[4], b[5] + 3, b[6] + 50, 98, 'middle', 'significance-stars-' + p.name);
    star.setAttribute('letter-spacing', '6');
  });
}

panels.forEach(drawPanel);
</script>
</body>
</html>
